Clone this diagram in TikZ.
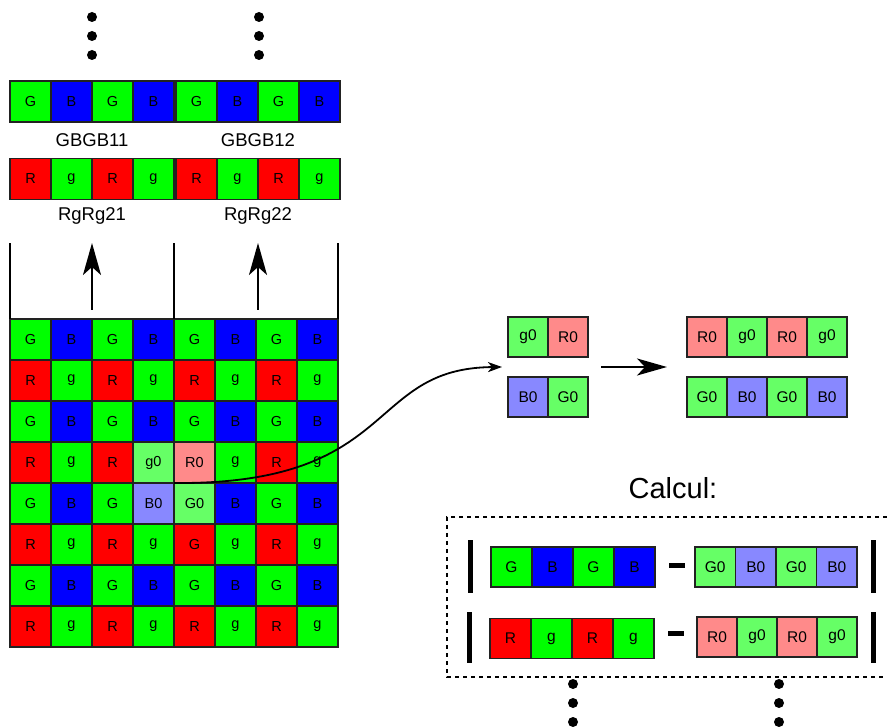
\documentclass[tikz,border=0pt]{standalone}
\usepackage{fontspec}
\setmainfont{Liberation Sans}
\usetikzlibrary{arrows.meta}
\definecolor{cg}{HTML}{00FF00}
\definecolor{cb}{HTML}{0000FF}
\definecolor{cr}{HTML}{FF0000}
\definecolor{lr}{HTML}{FF8A8A}
\definecolor{lg}{HTML}{66FF66}
\definecolor{lb}{HTML}{8888FF}
\definecolor{edge}{HTML}{222222}
\tikzset{
  cell/.style={draw=edge, line width=1.3pt, minimum width=41pt, minimum height=41pt, inner sep=0pt, outer sep=0pt, font=\fontsize{14.5}{16}\selectfont},
  scell/.style={cell, minimum width=40pt, minimum height=40pt, font=\fontsize{15.5}{17}\selectfont},
  lbl/.style={font=\fontsize{18.5}{21}\selectfont, inner sep=0pt},
  dotc/.style={fill=black},
  bigarrow/.style={line width=2pt, -{Stealth[length=32pt,width=18pt,inset=8pt]}},
  bar/.style={line width=5pt},
}
\begin{document}
\begin{tikzpicture}[x=1pt,y=-1pt]
\useasboundingbox (0,0) rectangle (887,727);
% dots top
\foreach \yy in {17,36,55}{
  \fill[dotc] (92,\yy) circle (5);
  \fill[dotc] (259,\yy) circle (5);
}
% top rows
\foreach \t/\c [count=\k] in {G/cg,B/cb,G/cg,B/cb}{
  \node[cell, fill=\c] (ta-\k) at ({10+41*(\k-0.5)},101.5) {\t};
  \node[cell, fill=\c] (tb-\k) at ({176+41*(\k-0.5)},101.5) {\t};
}
\foreach \t/\c [count=\k] in {R/cr,g/cg,R/cr,g/cg}{
  \node[cell, fill=\c] (ua-\k) at ({10+41*(\k-0.5)},179) {\t};
  \node[cell, fill=\c] (ub-\k) at ({176+41*(\k-0.5)},179) {\t};
}
\node[lbl] (l11) at (92,140) {GBGB11};
\node[lbl] (l12) at (258,140) {GBGB12};
\node[lbl] (l21) at (92,216) {RgRg21};
\node[lbl] (l22) at (258,216) {RgRg22};
% grid
\foreach \r/\spec in {
 1/{G/cg,B/cb,G/cg,B/cb,G/cg,B/cb,G/cg,B/cb},
 2/{R/cr,g/cg,R/cr,g/cg,R/cr,g/cg,R/cr,g/cg},
 3/{G/cg,B/cb,G/cg,B/cb,G/cg,B/cb,G/cg,B/cb},
 4/{R/cr,g/cg,R/cr,g0/lg,R0/lr,g/cg,R/cr,g/cg},
 5/{G/cg,B/cb,G/cg,B0/lb,G0/lg,B/cb,G/cg,B/cb},
 6/{R/cr,g/cg,R/cr,g/cg,G/cr,g/cg,R/cr,g/cg},
 7/{G/cg,B/cb,G/cg,B/cb,G/cg,B/cb,G/cg,B/cb},
 8/{R/cr,g/cg,R/cr,g/cg,R/cr,g/cg,R/cr,g/cg}}{
  \foreach \t/\c [count=\k] in \spec {
    \node[cell, fill=\c] (g-\r-\k) at ({10+41*(\k-0.5)},{319+41*(\r-0.5)}) {\t};
  }
}
% vertical lines and up arrows
\coordinate (v1) at (10,243);
\coordinate (v2) at (174,243);
\coordinate (v3) at (338,243);
\draw[line width=1.8pt] (g-1-1.north west) -- (v1);
\draw[line width=1.8pt] (g-1-4.north east) -- (v2);
\draw[line width=1.8pt] (g-1-8.north east) -- (v3);
\coordinate (a1s) at (92,310); \coordinate (a1e) at (92,243);
\coordinate (a2s) at (258,310); \coordinate (a2e) at (258,243);
\draw[bigarrow] (a1s) -- (a1e);
\draw[bigarrow] (a2s) -- (a2e);
% 2x2 block
\node[scell, fill=lg] (q1) at (528,337) {g0};
\node[scell, fill=lr] (q2) at (568,337) {R0};
\node[scell, fill=lb] (q3) at (528,397) {B0};
\node[scell, fill=lg] (q4) at (568,397) {G0};
% curved arrow
\coordinate (cs) at (g-5-4.north east);
\coordinate (ce) at (502,367);
\draw[line width=1.8pt, -{Stealth[length=14pt,width=10pt,inset=4pt]}] (cs) .. controls (400,485) and (365,368) .. (ce);
% middle arrow
\coordinate (ms) at (601,367);
\coordinate (me) at (667,367);
\draw[line width=2pt, -{Stealth[length=30pt,width=17pt,inset=8pt]}] (ms) -- (me);
% 4-cell rows right
\foreach \t/\c [count=\k] in {R0/lr,g0/lg,R0/lr,g0/lg}{
  \node[scell, fill=\c] (p-\k) at ({687+40*(\k-0.5)},337) {\t};
}
\foreach \t/\c [count=\k] in {G0/lg,B0/lb,G0/lg,B0/lb}{
  \node[scell, fill=\c] (s-\k) at ({687+40*(\k-0.5)},397) {\t};
}
% Calcul
\node[font=\fontsize{29}{33}\selectfont, inner sep=0pt] (calc) at (673,488) {Calcul:};
\draw[line width=2pt, dash pattern=on 4pt off 4pt] (887,517) -| (447,677) -- (887,677);
\foreach \t/\c [count=\k] in {G/cg,B/cb,G/cg,B/cb}{
  \node[cell, minimum height=40pt, font=\fontsize{15.5}{17}\selectfont, fill=\c] (c1-\k) at ({491+41*(\k-0.5)},567) {\t};
}
\foreach \t/\c [count=\k] in {G0/lg,B0/lb,G0/lg,B0/lb}{
  \node[cell, minimum width=40.5pt, minimum height=40pt, font=\fontsize{15.5}{17}\selectfont, fill=\c] (d1-\k) at ({695+40.5*(\k-0.5)},567) {\t};
}
\foreach \t/\c [count=\k] in {R/cr,g/cg,R/cr,g/cg}{
  \node[cell, minimum height=40pt, font=\fontsize{15.5}{17}\selectfont, fill=\c] (c2-\k) at ({490+41*(\k-0.5)},638.5) {\t};
}
\foreach \t/\c [count=\k] in {R0/lr,g0/lg,R0/lr,g0/lg}{
  \node[cell, minimum width=40pt, minimum height=40pt, font=\fontsize{15.5}{17}\selectfont, fill=\c] (d2-\k) at ({697+40*(\k-0.5)},637) {\t};
}
% bars and minus
\coordinate (b1t) at (470,540); \coordinate (b1b) at (470,593);
\coordinate (b2t) at (873,540); \coordinate (b2b) at (873,593);
\coordinate (b3t) at (469,612); \coordinate (b3b) at (469,663);
\coordinate (b4t) at (873,612); \coordinate (b4b) at (873,663);
\draw[bar] (b1t) -- (b1b);
\draw[bar] (b2t) -- (b2b);
\draw[bar] (b3t) -- (b3b);
\draw[bar] (b4t) -- (b4b);
\coordinate (m1a) at (669,565); \coordinate (m1b) at (685,565);
\coordinate (m2a) at (668,633); \coordinate (m2b) at (684,633);
\draw[bar] (m1a) -- (m1b);
\draw[bar] (m2a) -- (m2b);
% bottom dots
\foreach \yy in {684,703,722}{
  \fill[dotc] (573,\yy) circle (5);
  \fill[dotc] (779,\yy) circle (5);
}
\end{tikzpicture}
\end{document}
